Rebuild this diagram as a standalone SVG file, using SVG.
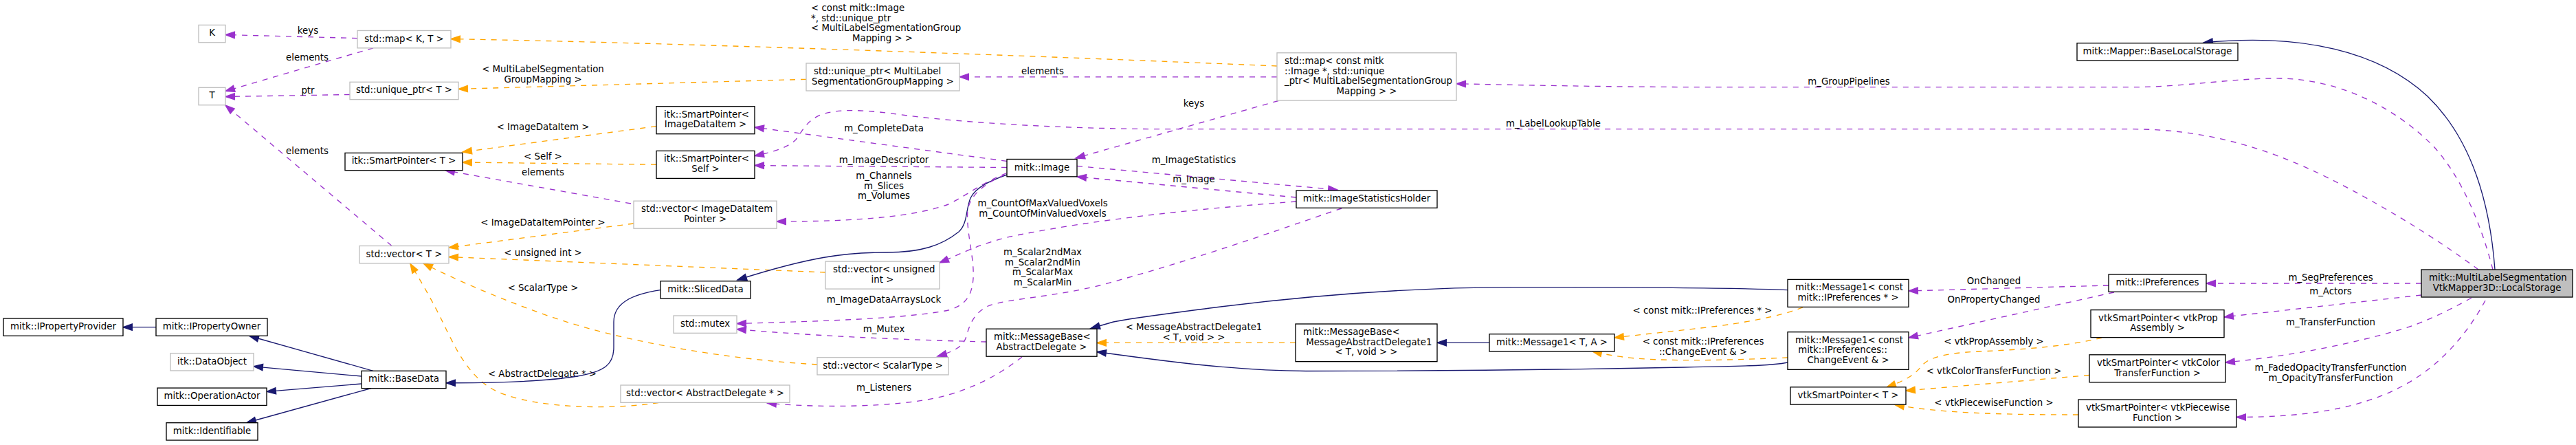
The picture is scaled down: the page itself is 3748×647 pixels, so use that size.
<svg xmlns="http://www.w3.org/2000/svg" width="3748" height="647" viewBox="0 0 3748 647">
<style>
text{font-family:"DejaVu Sans","Liberation Sans",sans-serif;font-size:13.33px;fill:#000}
.c{text-anchor:middle}
.nb rect{fill:#fff;stroke:#000;stroke-width:1.33}
.ng rect{fill:#fff;stroke:#bfbfbf;stroke-width:1.33}
.nf rect{fill:#bfbfbf;stroke:#000;stroke-width:1.33}
.ep{fill:none;stroke:#9a32cd;stroke-width:1.33;stroke-dasharray:8,8;marker-end:url(#aP)}
.eo{fill:none;stroke:#ffa500;stroke-width:1.33;stroke-dasharray:8,8;marker-end:url(#aO)}
.en{fill:none;stroke:#191970;stroke-width:1.33;marker-end:url(#aN)}
</style>
<defs>
<marker id="aP" markerUnits="userSpaceOnUse" markerWidth="16" markerHeight="12" refX="13.33" refY="4.67" orient="auto" overflow="visible"><path d="M0,0 L13.33,4.67 L0,9.33 Z" fill="#9a32cd" stroke="#9a32cd" stroke-width="1.33"/></marker>
<marker id="aO" markerUnits="userSpaceOnUse" markerWidth="16" markerHeight="12" refX="13.33" refY="4.67" orient="auto" overflow="visible"><path d="M0,0 L13.33,4.67 L0,9.33 Z" fill="#ffa500" stroke="#ffa500" stroke-width="1.33"/></marker>
<marker id="aN" markerUnits="userSpaceOnUse" markerWidth="16" markerHeight="12" refX="13.33" refY="4.67" orient="auto" overflow="visible"><path d="M0,0 L13.33,4.67 L0,9.33 Z" fill="#191970" stroke="#191970" stroke-width="1.33"/></marker>
</defs>
<rect width="3748" height="647" fill="#fff"/>
<g id="connectors">
<g id="e1"><path class="ep" d="M520,55.6 L328,50.5"/><text class="c" x="448" y="49">keys</text></g>
<g id="e2"><path class="ep" d="M543,69.8 L328,132.5"/><text class="c" x="447" y="88.4">elements</text></g>
<g id="e3"><path class="ep" d="M509,137.5 L328,140.5"/><text class="c" x="448" y="136">ptr</text></g>
<g id="e4"><path class="ep" d="M570,357.5 L328,153"/><text class="c" x="447" y="224">elements</text></g>
<g id="e5"><path class="eo" d="M1858,96 C1500,81 1000,62.7 656,56.6"/><text x="1180" y="16">&lt; const mitk::Image</text><text x="1180" y="30.67">*, std::unique_ptr</text><text x="1180" y="45.33">&lt; MultiLabelSegmentationGroup</text><text class="c" x="1284" y="60">Mapping &gt; &gt;</text></g>
<g id="e6"><path class="eo" d="M1173,115.3 L667,129.4"/><text class="c" x="790" y="105">&lt; MultiLabelSegmentation</text><text class="c" x="790" y="119.67">GroupMapping &gt;</text></g>
<g id="e7"><path class="ep" d="M1858,111.8 L1396,111.8"/><text class="c" x="1517" y="108">elements</text></g>
<g id="e8"><path class="ep" d="M1860,146.5 L1565,230"/><text class="c" x="1737" y="155">keys</text></g>
<g id="e9"><path class="eo" d="M955,183.6 L673,221"/><text class="c" x="790" y="189">&lt; ImageDataItem &gt;</text></g>
<g id="e10"><path class="eo" d="M955,239.3 L673,236"/><text class="c" x="790" y="232">&lt; Self &gt;</text></g>
<g id="e11"><path class="ep" d="M918,296 L648,247.7"/><text class="c" x="790" y="255">elements</text></g>
<g id="e12"><path class="eo" d="M922,325 L653,360"/><text class="c" x="790" y="328">&lt; ImageDataItemPointer &gt;</text></g>
<g id="e13"><path class="eo" d="M1201,396 L653,373.5"/><text class="c" x="790" y="371.7">&lt; unsigned int &gt;</text></g>
<g id="e14"><path class="eo" d="M1189,530 C1050,522 900,495 800,460 C720,432 660,405 616,383"/><text class="c" x="790" y="422.8">&lt; ScalarType &gt;</text></g>
<g id="e15"><path class="eo" d="M958,585.5 C890,596 780,594 725,570 C680,550 660,500 640,460 C625,430 610,405 597,383.5"/><text class="c" x="789" y="548">&lt; AbstractDelegate * &gt;</text></g>
<g id="e16"><path class="en" d="M961,421.7 C920,428 893,440 893,468 L893,505 C893,530 880,540 840,547 C790,555 720,557 649,556.7"/></g>
<g id="e17"><path class="en" d="M1465,254 C1440,263 1420,272 1412,288 C1405,305 1408,325 1395,337 C1370,357 1340,367 1290,367 C1230,367 1180,373 1073,407"/></g>
<g id="e18"><path class="en" d="M543,539.3 L363,488.5"/></g>
<g id="e19"><path class="en" d="M526,547 L369,532.8"/></g>
<g id="e20"><path class="en" d="M526,558 L388,569.4"/></g>
<g id="e21"><path class="en" d="M540,564.5 L359,614.5"/></g>
<g id="e22"><path class="en" d="M227,475.7 L179,475.7"/></g>
<g id="e23"><path class="ep" d="M1465,234.4 L1098,185"/><text class="c" x="1286" y="191">m_CompleteData</text></g>
<g id="e24"><path class="ep" d="M1465,243.5 L1098,240.6"/><text class="c" x="1286" y="237.2">m_ImageDescriptor</text></g>
<g id="e25"><path class="ep" d="M1465,251.5 C1430,265 1410,282 1380,297 C1330,315 1250,322 1130,322"/><text class="c" x="1286" y="260">m_Channels</text><text class="c" x="1286" y="274.67">m_Slices</text><text class="c" x="1286" y="289.33">m_Volumes</text></g>
<g id="e26"><path class="ep" d="M3606,392 C3540,343 3460,295 3390,260 C3290,210 3200,187.7 3100,187.7 L1700,187.7 C1550,187.7 1400,178 1320,168 C1270,161 1230,157 1200,165 C1175,172 1168,190 1158,203 C1145,216 1120,222 1098,226.5"/><text class="c" x="2260" y="184">m_LabelLookupTable</text></g>
<g id="e27"><path class="ep" d="M3627,392 C3610,325 3580,255 3540,212 C3480,152 3400,116 3320,114 C3250,113 3180,126.7 3100,126.7 L2500,126.7 C2350,126.7 2200,123.5 2119,121.7"/><text class="c" x="2690" y="123">m_GroupPipelines</text></g>
<g id="e28"><path class="en" d="M3630,392 C3622,285 3592,198 3532,140 C3462,75 3350,48 3206,62"/></g>
<g id="e29"><path class="ep" d="M3523,412 L3210,412"/><text class="c" x="3391" y="408">m_SegPreferences</text></g>
<g id="e30"><path class="ep" d="M3523,429 L3236,461"/><text class="c" x="3391" y="428">m_Actors</text></g>
<g id="e31"><path class="ep" d="M3596,433 C3560,453 3530,467 3500,477 C3420,501 3330,518 3238,527"/><text class="c" x="3391" y="472.8">m_TransferFunction</text></g>
<g id="e32"><path class="ep" d="M3616,437 C3590,485 3555,525 3510,553 C3440,596 3350,606.5 3254,606.5"/><text class="c" x="3391" y="539">m_FadedOpacityTransferFunction</text><text class="c" x="3391" y="553.67">m_OpacityTransferFunction</text></g>
<g id="e33"><path class="eo" d="M3058,491 C3010,503 2950,508 2880,511 C2830,513 2805,520 2795,533 C2785,546 2770,554 2745,563"/><text class="c" x="2901" y="501">&lt; vtkPropAssembly &gt;</text></g>
<g id="e34"><path class="eo" d="M3040,545.5 L2773,568"/><text class="c" x="2901" y="543.8">&lt; vtkColorTransferFunction &gt;</text></g>
<g id="e35"><path class="eo" d="M3024,603 C2900,603 2820,600 2757,588.5"/><text class="c" x="2901" y="590.4">&lt; vtkPiecewiseFunction &gt;</text></g>
<g id="e36"><path class="ep" d="M3068,415 L2777,423"/><text class="c" x="2901" y="413">OnChanged</text></g>
<g id="e37"><path class="ep" d="M3076,425 L2777,491"/><text class="c" x="2901" y="439.8">OnPropertyChanged</text></g>
<g id="e38"><path class="eo" d="M2623,447 C2600,456 2560,466 2500,474 C2450,480 2400,485 2349,491"/><text class="c" x="2477" y="455.5">&lt; const mitk::IPreferences * &gt;</text></g>
<g id="e39"><path class="eo" d="M2601,520 C2530,523 2440,526 2380,521 C2355,519 2335,515 2317,511"/><text class="c" x="2478" y="501">&lt; const mitk::IPreferences</text><text class="c" x="2478" y="515.67">::ChangeEvent &amp; &gt;</text></g>
<g id="e40"><path class="en" d="M2167,498.3 L2091,498.3"/></g>
<g id="e41"><path class="eo" d="M1885,498.4 L1596,498.4"/><text class="c" x="1737" y="479.8">&lt; MessageAbstractDelegate1</text><text class="c" x="1737" y="494.5">&lt; T, void &gt; &gt;</text></g>
<g id="e42"><path class="en" d="M2601,421.7 C2540,419 2400,417.6 2200,417.6 C2050,418 1900,430 1760,448 C1700,456 1650,462 1620,468 L1587,477.5"/></g>
<g id="e43"><path class="en" d="M2601,527 C2580,531 2560,532 2450,534 C2300,537 2100,539.5 1900,539.5 C1800,539 1700,526 1596,511.5"/></g>
<g id="e44"><path class="ep" d="M1487,519 C1460,540 1420,566 1360,579 C1300,591 1200,594 1116,586"/><text class="c" x="1286" y="568">m_Listeners</text></g>
<g id="e45"><path class="ep" d="M1435,497 C1350,495 1200,490 1072,478.6"/><text class="c" x="1286" y="483">m_Mutex</text></g>
<g id="e46"><path class="ep" d="M1462,254 C1430,268 1412,284 1408,305 C1405,335 1418,375 1416,405 C1414,435 1400,445 1380,451 C1320,463 1200,467 1072,470.5"/><text class="c" x="1286" y="439.8">m_ImageDataArraysLock</text></g>
<g id="e47"><path class="ep" d="M1886,293 C1750,303 1600,318 1480,342 C1430,352 1400,368 1367,382"/><text class="c" x="1517" y="300">m_CountOfMaxValuedVoxels</text><text class="c" x="1517" y="314.67">m_CountOfMinValuedVoxels</text></g>
<g id="e48"><path class="ep" d="M1952,303 C1900,320 1750,375 1600,415 C1530,432 1470,434 1440,444 C1415,455 1410,475 1405,492 C1400,505 1385,512 1364,518"/><text class="c" x="1517" y="371">m_Scalar2ndMax</text><text class="c" x="1517" y="385.67">m_Scalar2ndMin</text><text class="c" x="1517" y="400.33">m_ScalarMax</text><text class="c" x="1517" y="415">m_ScalarMin</text></g>
<g id="e49"><path class="ep" d="M1567,241.4 L1946,276"/><text class="c" x="1737" y="237.2">m_ImageStatistics</text></g>
<g id="e50"><path class="ep" d="M1886,287 L1567,257"/><text class="c" x="1737" y="265.3">m_Image</text></g>
</g>
<g id="n-K" class="ng"><rect x="289" y="36.4" width="39" height="25.33"/><text class="c" x="308.5" y="52.4">K</text></g>
<g id="n-T" class="ng"><rect x="289" y="127.4" width="39" height="25.33"/><text class="c" x="308.5" y="143.4">T</text></g>
<g id="n-mapKT" class="ng"><rect x="520" y="44.5" width="136" height="25.33"/><text class="c" x="588" y="60.5">std::map&lt; K, T &gt;</text></g>
<g id="n-uptrT" class="ng"><rect x="509" y="119.3" width="158" height="25.33"/><text class="c" x="588" y="135.3">std::unique_ptr&lt; T &gt;</text></g>
<g id="n-spT" class="nb"><rect x="502" y="222.4" width="171" height="25.33"/><text class="c" x="587.5" y="238.4">itk::SmartPointer&lt; T &gt;</text></g>
<g id="n-vecT" class="ng"><rect x="523" y="357.5" width="130" height="25.33"/><text class="c" x="588" y="373.5">std::vector&lt; T &gt;</text></g>
<g id="n-IPropertyProvider" class="nb"><rect x="5" y="463" width="174" height="25.33"/><text class="c" x="92" y="479">mitk::IPropertyProvider</text></g>
<g id="n-IPropertyOwner" class="nb"><rect x="227" y="463" width="162" height="25.33"/><text class="c" x="308" y="479">mitk::IPropertyOwner</text></g>
<g id="n-DataObject" class="ng"><rect x="248" y="513.6" width="121" height="25.33"/><text class="c" x="308.5" y="529.6">itk::DataObject</text></g>
<g id="n-OperationActor" class="nb"><rect x="229" y="564.1" width="159" height="25.33"/><text class="c" x="308.5" y="580.1">mitk::OperationActor</text></g>
<g id="n-Identifiable" class="nb"><rect x="242" y="614.7" width="133" height="25.33"/><text class="c" x="308.5" y="630.7">mitk::Identifiable</text></g>
<g id="n-BaseData" class="nb"><rect x="526" y="539.3" width="123" height="25.33"/><text class="c" x="587.5" y="555.3">mitk::BaseData</text></g>
<g id="n-spIDI" class="nb"><rect x="955" y="154.7" width="143" height="40"/><text x="966" y="170.7">itk::SmartPointer&lt;</text><text class="c" x="1026.5" y="185.4">ImageDataItem &gt;</text></g>
<g id="n-spSelf" class="nb"><rect x="955" y="219.4" width="143" height="40"/><text x="966" y="235.4">itk::SmartPointer&lt;</text><text class="c" x="1026.5" y="250.1">Self &gt;</text></g>
<g id="n-vecIDIP" class="ng"><rect x="922" y="292.2" width="208" height="40"/><text x="933" y="308.2">std::vector&lt; ImageDataItem</text><text class="c" x="1026" y="322.9">Pointer &gt;</text></g>
<g id="n-SlicedData" class="nb"><rect x="961" y="408.7" width="131" height="25.33"/><text class="c" x="1026.5" y="424.7">mitk::SlicedData</text></g>
<g id="n-mutex" class="ng"><rect x="980" y="459" width="92" height="25.33"/><text class="c" x="1026" y="475">std::mutex</text></g>
<g id="n-vecAD" class="ng"><rect x="903" y="560" width="246" height="25.33"/><text class="c" x="1026" y="576">std::vector&lt; AbstractDelegate * &gt;</text></g>
<g id="n-uptrML" class="ng"><rect x="1173" y="92" width="223" height="40"/><text x="1184" y="108">std::unique_ptr&lt; MultiLabel</text><text class="c" x="1284.5" y="122.7">SegmentationGroupMapping &gt;</text></g>
<g id="n-vecUI" class="ng"><rect x="1201" y="380.1" width="166" height="40"/><text x="1212" y="396.1">std::vector&lt; unsigned</text><text class="c" x="1284" y="410.8">int &gt;</text></g>
<g id="n-vecST" class="ng"><rect x="1189" y="519.6" width="191" height="25.33"/><text class="c" x="1284.5" y="535.6">std::vector&lt; ScalarType &gt;</text></g>
<g id="n-Image" class="nb"><rect x="1465" y="231.5" width="102" height="25.33"/><text class="c" x="1516" y="247.5">mitk::Image</text></g>
<g id="n-MBAD" class="nb"><rect x="1435" y="478.2" width="161" height="40"/><text x="1446" y="494.2">mitk::MessageBase&lt;</text><text class="c" x="1515.5" y="508.9">AbstractDelegate &gt;</text></g>
<g id="n-mapBig" class="ng"><rect x="1858" y="76.8" width="261" height="69.33"/><text x="1869" y="92.8">std::map&lt; const mitk</text><text x="1869" y="107.5">::Image *, std::unique</text><text x="1869" y="122.1">_ptr&lt; MultiLabelSegmentationGroup</text><text class="c" x="1988.5" y="136.8">Mapping &gt; &gt;</text></g>
<g id="n-ISH" class="nb"><rect x="1886" y="277" width="205" height="25.33"/><text class="c" x="1988.5" y="293">mitk::ImageStatisticsHolder</text></g>
<g id="n-MBMAD" class="nb"><rect x="1885" y="471" width="206" height="54.67"/><text x="1896" y="487">mitk::MessageBase&lt;</text><text x="1900.2" y="501.67">MessageAbstractDelegate1</text><text class="c" x="1988" y="516.3">&lt; T, void &gt; &gt;</text></g>
<g id="n-M1TA" class="nb"><rect x="2167" y="485.7" width="182" height="25.33"/><text class="c" x="2258" y="501.7">mitk::Message1&lt; T, A &gt;</text></g>
<g id="n-BLS" class="nb"><rect x="3022" y="62.7" width="234" height="25.33"/><text class="c" x="3139" y="78.7">mitk::Mapper::BaseLocalStorage</text></g>
<g id="n-M1IP" class="nb"><rect x="2601" y="406.4" width="176" height="40"/><text x="2612" y="422.4">mitk::Message1&lt; const</text><text class="c" x="2689" y="437.1">mitk::IPreferences * &gt;</text></g>
<g id="n-M1CE" class="nb"><rect x="2601" y="482.7" width="176" height="54.67"/><text x="2612" y="498.7">mitk::Message1&lt; const</text><text x="2616.2" y="513.4">mitk::IPreferences::</text><text class="c" x="2689" y="528">ChangeEvent &amp; &gt;</text></g>
<g id="n-vtkT" class="nb"><rect x="2605" y="562.8" width="168" height="25.33"/><text class="c" x="2689" y="578.8">vtkSmartPointer&lt; T &gt;</text></g>
<g id="n-IPref" class="nb"><rect x="3068" y="399" width="142" height="25.33"/><text class="c" x="3139" y="415">mitk::IPreferences</text></g>
<g id="n-vtkPA" class="nb"><rect x="3042" y="450.6" width="194" height="40"/><text x="3053" y="466.6">vtkSmartPointer&lt; vtkProp</text><text class="c" x="3139" y="481.3">Assembly &gt;</text></g>
<g id="n-vtkCTF" class="nb"><rect x="3040" y="515.8" width="198" height="40"/><text x="3051" y="531.8">vtkSmartPointer&lt; vtkColor</text><text class="c" x="3139" y="546.5">TransferFunction &gt;</text></g>
<g id="n-vtkPF" class="nb"><rect x="3024" y="581" width="230" height="40"/><text x="3035" y="597">vtkSmartPointer&lt; vtkPiecewise</text><text class="c" x="3139" y="611.7">Function &gt;</text></g>
<g id="n-LS" class="nf"><rect x="3523" y="392" width="220" height="40"/><text x="3534" y="408">mitk::MultiLabelSegmentation</text><text class="c" x="3633" y="422.7">VtkMapper3D::LocalStorage</text></g>
</svg>
